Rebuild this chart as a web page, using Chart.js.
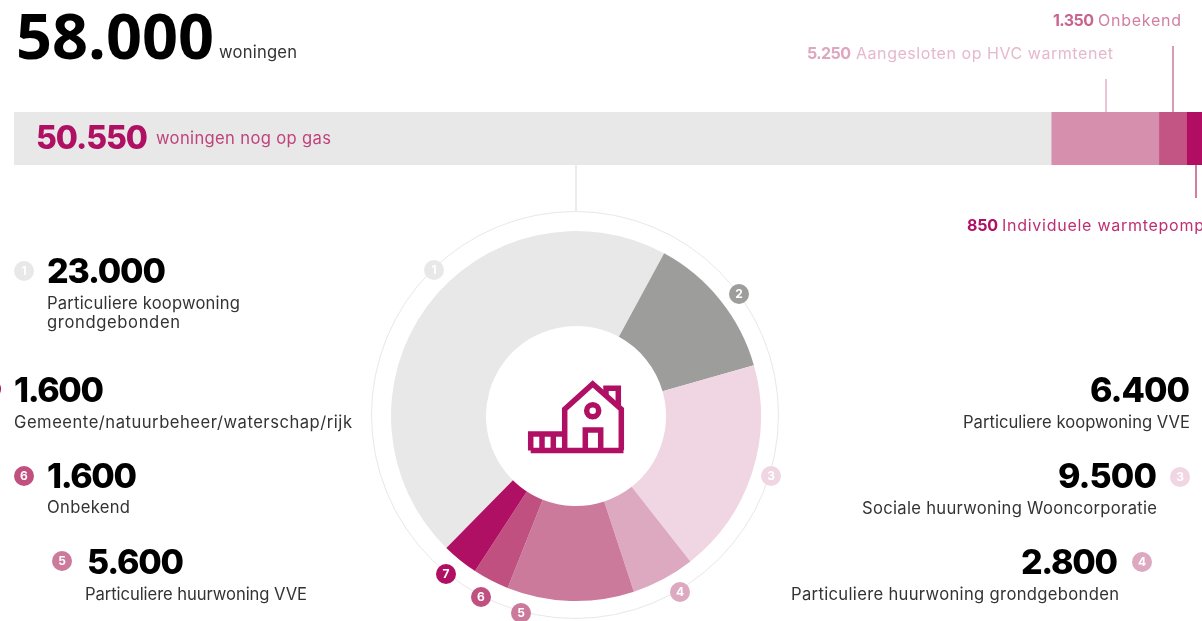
<!DOCTYPE html>
<html lang="nl">
<head>
<meta charset="utf-8">
<title>58.000 woningen</title>
<script src="https://cdn.jsdelivr.net/npm/chart.js@4/dist/chart.umd.min.js"></script>
<style>
html,body{margin:0;padding:0;width:1202px;height:621px;overflow:hidden;background:#fff;font-family:Inter,"Noto Sans",sans-serif}
#page{position:relative;width:1202px;height:621px;overflow:hidden}
canvas{position:absolute;display:block}
.t{position:absolute;white-space:nowrap;line-height:1em}
.badge{position:absolute;width:20px;height:20px;border-radius:50%;color:#fff;font-weight:700;font-size:12px;line-height:20px;text-align:center}
.ln{position:absolute}
#ring{position:absolute;left:371px;top:211px;width:406px;height:406px;border:1.5px solid #e8e8e8;border-radius:50%}
svg{position:absolute;left:0;top:0}
</style>
</head>
<body>
<div id="page">
  <div id="ring"></div>
  <canvas id="barChart" style="left:14px;top:112px"></canvas>
  <canvas id="donutChart" style="left:356px;top:196px"></canvas>
  <svg width="1202" height="621" fill="none" stroke="#b01063" stroke-width="5.5">
    <path d="M564.7 450V409.3L592.7 384L621.3 409.3V450"/>
    <path d="M530.7 450.5V434H564.7M530.7 450.5H623.5"/>
    <path d="M542 434V450M553.3 434V450M585.3 450V430H600.7V450"/>
    <circle cx="592.7" cy="410.7" r="6"/>
    <path d="M606 395V388.3H618.3V405"/>
  </svg>
</div>
<script>
// ---- data ----
const barLabels = ['Nog op gas', 'Aangesloten op HVC warmtenet', 'Onbekend', 'Individuele warmtepomp'];
const barValues = [50550, 5250, 1350, 850];
const barColors = ['#e8e8e8', '#d68fac', '#c25583', '#b10e63'];

const donutLabels = ['Particuliere koopwoning grondgebonden', 'Particuliere koopwoning VVE', 'Sociale huurwoning Wooncorporatie',
  'Particuliere huurwoning grondgebonden', 'Particuliere huurwoning VVE', 'Onbekend', 'Gemeente/natuurbeheer/waterschap/rijk'];
const donutValues = [23000, 6400, 9500, 2800, 5600, 1600, 1600];
const donutColors = ['#e8e8e8', '#9d9d9c', '#f0d6e2', '#dda9c0', '#cb7a9c', '#c0507f', '#b01063'];

// ---- charts ----
const barCanvas = document.getElementById('barChart');
barCanvas.width = 1190; barCanvas.height = 53;
new Chart(barCanvas, {
  type: 'bar',
  data: {
    labels: ['Woningen'],
    datasets: barValues.map((v, i) => ({ label: barLabels[i], data: [v], backgroundColor: barColors[i], borderWidth: 0, barPercentage: 1, categoryPercentage: 1 }))
  },
  options: {
    indexAxis: 'y', responsive: false, animation: false,
    plugins: { legend: { display: false }, tooltip: { enabled: false } },
    scales: { x: { stacked: true, display: false, min: 0, max: 58000 }, y: { stacked: true, display: false } }
  }
});

const donutCanvas = document.getElementById('donutChart');
donutCanvas.width = 440; donutCanvas.height = 440;
new Chart(donutCanvas, {
  type: 'doughnut',
  data: { labels: donutLabels, datasets: [{ data: donutValues, backgroundColor: donutColors, borderWidth: 0 }] },
  options: {
    responsive: false, animation: false, rotation: 224.5, cutout: '48.65%',
    layout: { padding: 35 },
    plugins: { legend: { display: false }, tooltip: { enabled: false } }
  }
});

// ---- text ----
const page = document.getElementById('page');
const BLACK = '#000', BODY = '#333', MAG = '#b01063';
const NUM = 34, LBL = 16.6, SM = 16;
const texts = [
  ['58.000', 16, 214, 58.5, 63, 700, BLACK, '"Open Sans"'],
  ['woningen', 219, 297, 58, LBL, 400, BODY],
  ['50.550', 36, 148, 149, 32, 800, MAG],
  ['woningen nog op gas', 156, 331, 144.5, LBL, 400, '#c0427c'],
  ['1.350', 1053, 1094, 25.5, SM, 700, '#c9648f'],
  ['Onbekend', 1098, 1181, 25.5, SM, 400, '#d27fa3'],
  ['5.250', 807, 851, 58.5, SM, 700, '#dea6bf'],
  ['Aangesloten op HVC warmtenet', 856, 1113, 58.5, SM, 400, '#e6b8cc'],
  ['850', 967, 998, 231, SM, 700, MAG],
  ['Individuele warmtepomp', 1002, 1204, 231, SM, 400, '#bf2f74'],
  ['23.000', 47, 166, 283, NUM, 800, BLACK],
  ['Particuliere koopwoning', 47, 240, 309, LBL, 400, BODY],
  ['grondgebonden', 47, 180, 328, LBL, 400, BODY],
  ['1.600', 14, 104, 402, NUM, 800, BLACK],
  ['Gemeente/natuurbeheer/waterschap/rijk', 14, 352, 428, LBL, 400, BODY],
  ['1.600', 47, 137, 488, NUM, 800, BLACK],
  ['Onbekend', 47, 130, 513.5, LBL, 400, BODY],
  ['5.600', 87, 184, 574, NUM, 800, BLACK],
  ['Particuliere huurwoning VVE', 85, 307, 600, LBL, 400, BODY],
  ['6.400', 1090, 1190, 402, NUM, 800, BLACK],
  ['Particuliere koopwoning VVE', 963, 1190, 428, LBL, 400, BODY],
  ['9.500', 1058, 1157, 488, NUM, 800, BLACK],
  ['Sociale huurwoning Wooncorporatie', 862, 1157, 514, LBL, 400, BODY],
  ['2.800', 1021, 1118, 574, NUM, 800, BLACK],
  ['Particuliere huurwoning grondgebonden', 791, 1119, 600, LBL, 400, BODY]
];
const meas = document.createElement('canvas').getContext('2d');
texts.forEach(([s, x0, x1, base, fs, w, col, fam]) => {
  const family = fam || 'Inter';
  const d = document.createElement('div');
  d.className = 't'; d.textContent = s;
  d.style.cssText = `font-size:${fs}px;font-weight:${w};color:${col};font-family:${family},sans-serif`;
  page.appendChild(d);
  meas.font = `${w} ${fs}px ${family}`;
  const m = meas.measureText(s);
  const asc = m.fontBoundingBoxAscent, desc = m.fontBoundingBoxDescent;
  d.style.left = x0 + 'px';
  d.style.top = (base - ((fs - (asc + desc)) / 2 + asc)) + 'px';
  const natural = d.getBoundingClientRect().width;
  d.style.letterSpacing = ((x1 - x0 - natural) / (s.length - 1)) + 'px';
});

// ---- number badges ----
const badges = [
  ['1', 434, 270, '#e8e8e8'], ['2', 739, 294, '#9d9d9c'], ['3', 771, 476, '#f0d6e2'], ['4', 680, 592, '#dda9c0'],
  ['5', 521, 613, '#cb7a9c'], ['6', 481, 597, '#c0507f'], ['7', 446, 574, '#b01063'],
  ['1', 24, 270.5, '#e8e8e8'], ['7', -9, 389, '#b01063'], ['6', 24, 476, '#c0507f'], ['5', 62, 561, '#cb7a9c'],
  ['3', 1180, 476.5, '#f0d6e2'], ['4', 1142, 561.5, '#dda9c0']
];
badges.forEach(([n, cx, cy, col]) => {
  const b = document.createElement('div');
  b.className = 'badge'; b.textContent = n;
  b.style.cssText = `left:${cx - 10}px;top:${cy - 10}px;background:${col}`;
  page.appendChild(b);
});

// ---- leader lines ----
const lines = [
  [1105, 79, 2, 33, '#ecc3d4'], [1172, 46, 2, 66, '#dd9ab7'], [1195, 165, 2, 33, '#d57ca3'], [575, 165, 2, 47, '#ececec']
];
lines.forEach(([x, y, w, h, col]) => {
  const l = document.createElement('div');
  l.className = 'ln';
  l.style.cssText = `left:${x}px;top:${y}px;width:${w}px;height:${h}px;background:${col}`;
  page.appendChild(l);
});
</script>
</body>
</html>
